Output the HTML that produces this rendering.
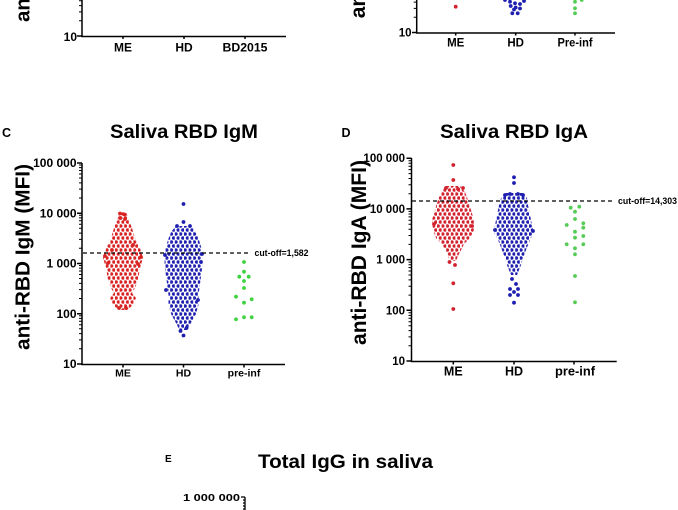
<!DOCTYPE html>
<html><head><meta charset="utf-8"><style>
html,body{margin:0;padding:0;background:#fff;overflow:hidden}
svg{display:block}
text{font-family:"Liberation Sans",Arial,sans-serif;font-weight:bold;fill:#000}
</style></head><body>
<svg width="678" height="510" viewBox="0 0 678 510" xmlns="http://www.w3.org/2000/svg">
<defs>
<pattern id="pR" patternUnits="userSpaceOnUse" width="4.6" height="8"><circle cx="1.15" cy="2" r="1.75" fill="#d92323"/><circle cx="3.45" cy="6" r="1.75" fill="#d92323"/></pattern>
<pattern id="pR2" patternUnits="userSpaceOnUse" width="4.6" height="8"><circle cx="1.15" cy="2" r="1.75" fill="#d1222e"/><circle cx="3.45" cy="6" r="1.75" fill="#d1222e"/></pattern>
<pattern id="pB" patternUnits="userSpaceOnUse" width="4.6" height="8"><circle cx="1.15" cy="2" r="1.75" fill="#1e1eb0"/><circle cx="3.45" cy="6" r="1.75" fill="#1e1eb0"/></pattern>
<path id="mt" d="M-3,-15.2H0M-3,-24.1H0M-3,-30.4H0M-3,-35.3H0M-3,-39.3H0M-3,-42.7H0M-3,-45.6H0M-3,-48.2H0" stroke="#000" stroke-width="1"/>
</defs>
<rect width="678" height="510" fill="#fff"/>

<!-- ===== Panel A (top-left, cropped) ===== -->
<text transform="translate(29.5,22) rotate(-90)" font-size="20.5">anti-RBD IgG (MFI)</text>
<g stroke="#000" stroke-width="1.5" fill="none">
<path d="M82,-2V36.5H286"/>
<path d="M77,36H82M123,36V39M184,36V39M245,36V39"/>
</g>
<use href="#mt" transform="translate(82,36)"/>
<text x="77" y="41" font-size="12" text-anchor="end">10</text>
<text x="123" y="51.5" font-size="12" text-anchor="middle">ME</text>
<text x="184" y="51.5" font-size="12" text-anchor="middle">HD</text>
<text x="245" y="51.5" font-size="12" text-anchor="middle" textLength="45" lengthAdjust="spacingAndGlyphs">BD2015</text>

<!-- ===== Panel B (top-right, cropped) ===== -->
<text transform="translate(365,18.3) rotate(-90)" font-size="21">anti-RBD IgA (MFI)</text>
<g stroke="#000" stroke-width="1.5" fill="none">
<path d="M416.7,-2V33H615"/>
<path d="M412,32.5H416.7M455.7,32.5V35.5M515.7,32.5V35.5M575,32.5V35.5"/>
</g>
<use href="#mt" transform="translate(416.7,32.5)"/>
<text x="411.5" y="36.5" font-size="11.5" text-anchor="end">10</text>
<text x="455.7" y="46.5" font-size="11.5" text-anchor="middle">ME</text>
<text x="515.7" y="46.5" font-size="11.5" text-anchor="middle">HD</text>
<text x="575" y="46.5" font-size="11.5" text-anchor="middle" textLength="35" lengthAdjust="spacingAndGlyphs">Pre-inf</text>
<g fill="#d1222e"><circle cx="455.7" cy="6.7" r="1.9"/></g>
<g fill="#1e1eb0">
<circle cx="505" cy="0" r="1.9"/><circle cx="510" cy="1.7" r="1.9"/><circle cx="515" cy="3.3" r="1.9"/><circle cx="520" cy="4" r="1.9"/>
<circle cx="510.7" cy="6" r="1.9"/><circle cx="515.7" cy="7.5" r="1.9"/><circle cx="520" cy="8.5" r="1.9"/><circle cx="514" cy="9.5" r="1.9"/>
<circle cx="512.3" cy="13.3" r="1.9"/><circle cx="517.7" cy="13.3" r="1.9"/><circle cx="524" cy="1" r="1.9"/>
</g>
<g fill="#55cc55">
<circle cx="575" cy="1.7" r="1.9"/><circle cx="575" cy="8.3" r="1.9"/><circle cx="575" cy="13.3" r="1.9"/><circle cx="581.7" cy="0" r="1.9"/>
</g>

<!-- ===== Panel C ===== -->
<text x="2" y="137" font-size="12.5">C</text>
<text x="184" y="138" font-size="19.5" text-anchor="middle" textLength="148" lengthAdjust="spacingAndGlyphs">Saliva RBD IgM</text>
<text transform="translate(29.5,350) rotate(-90)" font-size="20.5" textLength="186" lengthAdjust="spacingAndGlyphs">anti-RBD IgM (MFI)</text>
<g stroke="#000" stroke-width="1.5" fill="none">
<path d="M82,163V364.5H285"/>
<path d="M77,163H82M77,213.25H82M77,263.5H82M77,313.75H82M77,364H82"/>
<path d="M123,364V367.5M183.5,364V367.5M244,364V367.5"/>
</g>
<use href="#mt" transform="translate(82,364)"/>
<use href="#mt" transform="translate(82,313.75)"/>
<use href="#mt" transform="translate(82,263.5)"/>
<use href="#mt" transform="translate(82,213.25)"/>
<g font-size="12" text-anchor="end">
<text x="76.5" y="167">100 000</text>
<text x="76.5" y="217.3">10 000</text>
<text x="76.5" y="267.5">1 000</text>
<text x="76.5" y="317.8">100</text>
<text x="76.5" y="368">10</text>
</g>
<g font-size="10.5" text-anchor="middle">
<text x="123" y="376.5">ME</text>
<text x="183.5" y="376.5">HD</text>
<text x="244" y="376.5">pre-inf</text>
</g>
<!-- ME cluster -->
<path fill="url(#pR)" d="M120,212L117,220L114,228L111,238L106,248L103,258L106,268L108,280L111,288L114,293L110,298L113,305L119,310L127,310L133,305L136,298L132,293L135,288L138,280L140,268L143,258L140,248L135,238L132,228L129,220L126,212Z"/>
<g fill="#d92323">
<circle cx="120" cy="213.5" r="1.9"/><circle cx="124.5" cy="214.5" r="1.9"/><circle cx="120" cy="218" r="1.9"/><circle cx="125" cy="219" r="1.9"/>
<circle cx="105" cy="256" r="1.9"/><circle cx="141" cy="257" r="1.9"/><circle cx="108" cy="263" r="1.9"/><circle cx="138" cy="264" r="1.9"/>
<circle cx="119" cy="308" r="1.9"/><circle cx="126" cy="308" r="1.9"/><circle cx="112" cy="250" r="1.9"/><circle cx="133" cy="245" r="1.9"/>
</g>
<!-- HD cluster -->
<path fill="url(#pB)" d="M176,226L171,232L168,240L165,250L164.5,265L166.5,280L168.5,295L168.5,305L171.5,315L175.5,322L179.5,330L187.5,330L191.5,322L195.5,315L198.5,305L198.5,295L200.5,280L202.5,265L202,250L199,240L196,232L191,226Z"/>
<g fill="#1e1eb0">
<circle cx="183.5" cy="204" r="1.9"/><circle cx="183.5" cy="222" r="1.9"/><circle cx="183.5" cy="335.5" r="1.9"/><circle cx="180.5" cy="331" r="1.9"/><circle cx="186.5" cy="328" r="1.9"/>
<circle cx="165" cy="255" r="1.9"/><circle cx="202" cy="254" r="1.9"/><circle cx="201" cy="262" r="1.9"/><circle cx="166" cy="290" r="1.9"/><circle cx="198" cy="300" r="1.9"/>
<circle cx="177" cy="226" r="1.9"/><circle cx="190" cy="226" r="1.9"/>
</g>
<!-- pre-inf -->
<g fill="#3fd23f">
<circle cx="244" cy="262" r="1.9"/><circle cx="244" cy="271.7" r="1.9"/><circle cx="239.3" cy="276.7" r="1.9"/><circle cx="248.7" cy="276.7" r="1.9"/>
<circle cx="244" cy="281" r="1.9"/><circle cx="244" cy="288" r="1.9"/><circle cx="236" cy="296.7" r="1.9"/><circle cx="251.7" cy="299.3" r="1.9"/>
<circle cx="244" cy="302.7" r="1.9"/><circle cx="236" cy="319.3" r="1.9"/><circle cx="244" cy="317.3" r="1.9"/><circle cx="251.7" cy="317.3" r="1.9"/>
</g>
<path d="M83,253H250" stroke="#000" stroke-width="1.3" stroke-dasharray="4 3"/>
<text x="254.5" y="256" font-size="9" font-weight="normal" textLength="54" lengthAdjust="spacingAndGlyphs">cut-off=1,582</text>

<!-- ===== Panel D ===== -->
<text x="341.5" y="137" font-size="12.5">D</text>
<text x="514" y="138" font-size="19.5" text-anchor="middle" textLength="148" lengthAdjust="spacingAndGlyphs">Saliva RBD IgA</text>
<text transform="translate(366,345) rotate(-90)" font-size="21" textLength="185" lengthAdjust="spacingAndGlyphs">anti-RBD IgA (MFI)</text>
<g stroke="#000" stroke-width="1.5" fill="none">
<path d="M411.5,158V361.5H616.7"/>
<path d="M406.5,158.2H411.5M406.5,208.9H411.5M406.5,259.6H411.5M406.5,310.3H411.5M406.5,361H411.5"/>
<path d="M453.3,361V364.5M514,361V364.5M574,361V364.5"/>
</g>
<use href="#mt" transform="translate(411.5,361)"/>
<use href="#mt" transform="translate(411.5,310.3)"/>
<use href="#mt" transform="translate(411.5,259.6)"/>
<use href="#mt" transform="translate(411.5,208.9)"/>
<g font-size="11.5" text-anchor="end">
<text x="405" y="162.2">100 000</text>
<text x="405" y="212.9">10 000</text>
<text x="405" y="263.6">1 000</text>
<text x="405" y="314.3">100</text>
<text x="405" y="365">10</text>
</g>
<g font-size="12.5" text-anchor="middle">
<text x="453.3" y="375.7">ME</text>
<text x="514" y="375.7">HD</text>
<text x="575" y="375.7" textLength="40" lengthAdjust="spacingAndGlyphs">pre-inf</text>
</g>
<!-- ME -->
<path fill="url(#pR2)" d="M446,186L441,192L438,200L435,210L432,220L433,230L436,238L442,244L445,250L448,256L450,261L456,261L458,256L461,250L464,244L470,238L474,230L474,220L471,210L468,200L465,192L460,186Z"/>
<g fill="#d1222e">
<circle cx="453.3" cy="165" r="1.9"/><circle cx="453.3" cy="180" r="1.9"/><circle cx="453.3" cy="283.3" r="1.9"/><circle cx="453.3" cy="309" r="1.9"/>
<circle cx="449.5" cy="262" r="1.9"/><circle cx="455" cy="265" r="1.9"/><circle cx="434" cy="224" r="1.9"/><circle cx="472" cy="226" r="1.9"/>
<circle cx="458" cy="189" r="1.9"/><circle cx="463" cy="188" r="1.9"/><circle cx="446" cy="188" r="1.9"/>
</g>
<!-- HD -->
<path fill="url(#pB)" d="M505,193L501,198L499,205L497,215L495,225L494,232L498,240L502,250L505,258L507,265L509,270L511,275L517,275L519,270L521,265L523,258L526,250L530,240L534,232L532,225L530,215L528,205L527,198L523,193Z"/>
<g fill="#1e1eb0">
<circle cx="514" cy="177.3" r="1.9"/><circle cx="514" cy="183" r="1.9"/><circle cx="512" cy="279" r="1.9"/><circle cx="516" cy="284" r="1.9"/>
<circle cx="510" cy="289" r="1.9"/><circle cx="518" cy="289" r="1.9"/><circle cx="514" cy="292" r="1.9"/><circle cx="510" cy="295" r="1.9"/>
<circle cx="518" cy="295" r="1.9"/><circle cx="514" cy="302.7" r="1.9"/><circle cx="495" cy="230" r="1.9"/><circle cx="533" cy="231" r="1.9"/>
<circle cx="510" cy="194" r="1.9"/><circle cx="518" cy="194" r="1.9"/><circle cx="505" cy="195" r="1.9"/><circle cx="523" cy="195" r="1.9"/>
</g>
<!-- pre-inf -->
<g fill="#55cc55">
<circle cx="570.7" cy="207.7" r="1.9"/><circle cx="579.3" cy="206.7" r="1.9"/><circle cx="575" cy="211.7" r="1.9"/><circle cx="575" cy="219" r="1.9"/>
<circle cx="566.7" cy="225" r="1.9"/><circle cx="583.3" cy="223.3" r="1.9"/><circle cx="583.3" cy="227.7" r="1.9"/><circle cx="575" cy="231.7" r="1.9"/>
<circle cx="583.3" cy="236" r="1.9"/><circle cx="575" cy="237.7" r="1.9"/><circle cx="566.7" cy="244.3" r="1.9"/><circle cx="583.3" cy="244.3" r="1.9"/>
<circle cx="575" cy="248.3" r="1.9"/><circle cx="575" cy="254.3" r="1.9"/><circle cx="575" cy="276" r="1.9"/><circle cx="575" cy="302.3" r="1.9"/>
</g>
<path d="M412,201H615" stroke="#000" stroke-width="1.3" stroke-dasharray="4 3"/>
<text x="618" y="204" font-size="9" font-weight="normal" textLength="59" lengthAdjust="spacingAndGlyphs">cut-off=14,303</text>

<!-- ===== Panel E ===== -->
<text x="165" y="462" font-size="10">E</text>
<text x="345.5" y="468" font-size="19.5" text-anchor="middle" textLength="175" lengthAdjust="spacingAndGlyphs">Total IgG in saliva</text>
<text x="240" y="501" font-size="10.5" text-anchor="end" textLength="57" lengthAdjust="spacingAndGlyphs">1 000 000</text>
<g stroke="#000" stroke-width="1.3" fill="none">
<path d="M245,497V512M241,497H245M243,500H245M243,503H245M243,506H245M243,509H245"/>
</g>
</svg>
</body></html>
